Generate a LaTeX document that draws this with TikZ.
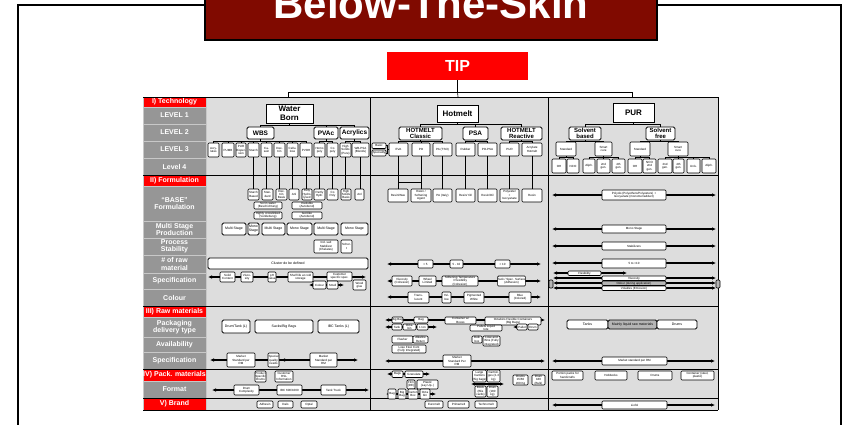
\documentclass[tikz,border=0pt]{standalone}
\usepackage{fontspec}
\setmainfont{Liberation Sans}
\usetikzlibrary{arrows.meta}
\definecolor{tred}{RGB}{128,10,0}
\definecolor{hred}{RGB}{255,0,0}
\definecolor{cbg}{RGB}{221,221,221}
\definecolor{lbg}{RGB}{150,150,150}
\definecolor{lsep}{RGB}{200,200,200}
\newcommand\mybx[7][sb]{\node[#1,minimum width={(#5)-(#3)},minimum height={(#6)-(#4)}] (#2) at ({((#3)+(#5))/2},{((#4)+(#6))/2}) {#7};}
\newcommand\mydl[5][dar]{\coordinate (#2l) at (#3,#5); \coordinate (#2r) at (#4,#5); \draw[#1] (#2l) -- (#2r);}
\tikzset{
 sb/.style={draw,fill=white,rounded corners=1pt,line width=0.55pt,inner sep=0pt,outer sep=0pt,align=center,font=\fontsize{3}{3.3}\selectfont},
 sbg/.style={sb,fill=lbg!70},
 pkb/.style={sb,line width=0.8pt,rounded corners=1.5pt,font=\fontsize{3.5}{4}\selectfont},
 bigb/.style={draw,fill=white,line width=0.9pt,inner sep=0pt,outer sep=0pt,align=center,font=\bfseries\fontsize{8}{8.6}\selectfont},
 midb/.style={draw,fill=white,rounded corners=1.5pt,line width=0.8pt,inner sep=0pt,outer sep=0pt,align=center,font=\bfseries\fontsize{6.5}{6.5}\selectfont},
 midc/.style={midb,font=\bfseries\fontsize{6}{5.6}\selectfont},
 lblc/.style={draw=lsep,line width=0.5pt,fill=lbg,text=white,inner sep=0pt,outer sep=0pt,align=center,font=\bfseries\fontsize{7}{7.6}\selectfont},
 lblr/.style={lblc,fill=hred},
 tipst/.style={fill=hred,text=white,inner sep=0pt,outer sep=0pt,font=\bfseries\fontsize{16}{16}\selectfont},
 titst/.style={draw=black,line width=1.3pt,fill=tred,inner sep=0pt,outer sep=0pt},
 ttxt/.style={text=white,inner sep=0pt,font=\bfseries\fontsize{42}{42}\selectfont},
 con/.style={line width=0.6pt},
 sec/.style={line width=0.9pt},
 dar/.style={line width=1.2pt,{Latex[length=4pt,width=3.6pt]}-{Latex[length=4pt,width=3.6pt]}},
 lar/.style={line width=1.2pt,{Latex[length=4pt,width=3.6pt]}-},
 rar/.style={line width=1.2pt,-{Latex[length=4pt,width=3.6pt]}},
}
\begin{document}
\begin{tikzpicture}[x=1pt,y=-1pt]
\useasboundingbox (0,0) rectangle (846,424);
% frame and title
\draw[line width=1.3pt] (18,5) rectangle (841,440);
\mybx[titst]{ttl}{205}{-10}{657}{40}{}
\node[ttxt,anchor=base] (ttext) at (431,18) {Below-The-Skin};
\mybx[tipst]{tip}{387}{52}{528}{80}{TIP}
% grid background
\fill[cbg] (206,97) rectangle (718,410);
% label column
\mybx[lblr]{r0}{143}{97}{206}{107}{I) Technology}
\mybx[lblc]{r1}{143}{107}{206}{124}{LEVEL 1}
\mybx[lblc]{r2}{143}{124}{206}{141}{LEVEL 2}
\mybx[lblc]{r3}{143}{141}{206}{158}{LEVEL 3}
\mybx[lblc]{r4}{143}{158}{206}{175}{Level 4}
\mybx[lblr]{r5}{143}{175}{206}{186}{II) Formulation}
\mybx[lblc]{r6}{143}{186}{206}{221}{``BASE''\\Formulation}
\mybx[lblc]{r7}{143}{221}{206}{238}{Multi Stage\\Production}
\mybx[lblc]{r8}{143}{238}{206}{255}{Process\\Stability}
\mybx[lblc]{r9}{143}{255}{206}{273}{\# of raw\\material}
\mybx[lblc]{r10}{143}{273}{206}{289}{Specification}
\mybx[lblc]{r11}{143}{289}{206}{306}{Colour}
\mybx[lblr]{r12}{143}{306}{206}{317}{III) Raw materials}
\mybx[lblc]{r13}{143}{317}{206}{337}{Packaging\\delivery type}
\mybx[lblc]{r14}{143}{337}{206}{352}{Availability}
\mybx[lblc]{r15}{143}{352}{206}{369}{Specification}
\mybx[lblr]{r16}{143}{369}{206}{381}{IV) Pack. materials}
\mybx[lblc]{r17}{143}{381}{206}{398}{Format}
\mybx[lblr]{r18}{143}{398}{206}{410}{V) Brand}
% section lines
\draw[sec] (143,97) -- (718,97);
\draw[sec] (143,175) -- (718,175);
\draw[sec] (143,306) -- (718,306);
\draw[sec] (143,369) -- (718,369);
\draw[con] (143,398) -- (718,398);
\draw[sec] (143,410) -- (718,410);
\draw[sec] (370,97) -- (370,410);
\draw[sec] (548,97) -- (548,410);
\draw[sec] (718,97) -- (718,410);
% TIP connector
\coordinate (gwb) at (288,97);
\coordinate (ghm) at (458,97);
\coordinate (gpu) at (632,97);
\draw[con] (tip.south) -- ++(0,12) coordinate (tj);
\draw[con] (gwb) -- (gwb |- tj) -- (gpu |- tj) -- (gpu);
\draw[con] (tj) -- (ghm);

%================ WATER BORN
\mybx[bigb]{wb}{266}{104}{313}{123}{Water\\Born}
\mybx[midb]{wbs}{247}{127}{274}{139}{WBS}
\mybx[midb]{pvac}{314}{127}{338}{139}{PVAc}
\mybx[midb]{acr}{340}{127}{369}{139}{Acrylics}
\mybx{l3a}{208}{143}{219}{157}{Acry-\\lates}
\mybx{l3b}{222}{143}{234}{157}{PUMB}
\mybx{l3c}{236}{143}{246}{157}{PUR\\Disper-\\sion}
\mybx{l3d}{248}{143}{259}{157}{Starch}
\mybx{l3e}{261}{143}{272}{157}{Ca-\\sein}
\mybx{l3f}{274}{143}{285}{157}{Dex-\\trin}
\mybx{l3g}{287}{143}{298}{157}{Cellu-\\lose}
\mybx{l3h}{300}{143}{312}{157}{PVOH}
\mybx{l3i}{314}{143}{325}{157}{Homo\\poly}
\mybx{l3j}{327}{143}{338}{157}{Co\\poly}
\mybx{l3k}{340}{143}{351}{157}{High\\Solids\\(Pure)}
\mybx{l3l}{352}{143}{369}{157}{WB-PSA\\(Blends)}
\draw[con] (wb.south) -- ++(0,2);
\draw[con] (wbs.north) -- ++(0,-2) -| (acr.north);
\draw[con] (pvac.north) -- ++(0,-2);
\draw[con] (wbs.south) -- ++(0,2);
\draw[con] (l3a.north) -- ++(0,-2) -| (l3h.north);
\foreach \n in {l3b,l3c,l3d,l3e,l3f,l3g} \draw[con] (\n.north) -- ++(0,-2);
\draw[con] (pvac.south) -- ++(0,2);
\draw[con] (l3i.north) -- ++(0,-2) -| (l3j.north);
\draw[con] (acr.south) -- ++(0,2);
\draw[con] (l3k.north) -- ++(0,-2) -| (l3l.north);
% formulation WB
\mybx{f1}{248}{189}{259}{200}{Starch\\Based}
\mybx{f2}{262}{189}{273}{200}{Stan-\\dard}
\mybx{f3}{276}{189}{287}{200}{Dex-\\trin\\Basis}
\mybx{f4}{289}{189}{299}{200}{Anl}
\mybx{f5}{302}{189}{312}{200}{Fully\\Hydro-\\lysed}
\mybx{f6}{314}{189}{325}{200}{Partly\\Hydr.}
\mybx{f7}{327}{189}{338}{200}{Co\\Poly}
\mybx{f8}{341}{189}{351}{200}{High\\Solids\\Basis}
\mybx{f9}{355}{189}{364}{200}{Anl}
\foreach \a/\b in {l3d/f1,l3e/f2,l3f/f3,l3g/f4,l3h/f5,l3i/f6,l3j/f7,l3k/f8,l3l/f9}
  \draw[con] (\a.south) -- (\a.south |- \b.north);
\mybx{g1}{254}{202}{282}{209}{Sol in water\\(Beschichtung)}
\mybx{g2}{292}{202}{322}{209}{Insoluble\\(Autobond)}
\mybx{g3}{254}{212}{282}{219}{Highly crosslinked\\(Verklebung)}
\mybx{g4}{292}{212}{322}{219}{Gel-like\\(Autobond)}
\mybx[pkb]{m1}{222}{223}{246}{235}{Multi Stage}
\mybx[pkb]{m2}{248}{223}{259}{235}{Mono\\Stage}
\mybx[pkb]{m3}{262}{223}{285}{235}{Multi Stage}
\mybx[pkb]{m4}{287}{223}{312}{235}{Mono Stage}
\mybx[pkb]{m5}{314}{223}{338}{235}{Multi Stage}
\mybx[pkb]{m6}{341}{223}{368}{235}{Mono Stage}
\mybx{p1}{314}{240}{338}{253}{Ind. salt\\Stabilizer\\(Chelates)}
\mybx{p2}{341}{240}{352}{253}{Scher-\\t}
\mybx[pkb]{rw1}{208}{258}{368}{269}{Cluster do be defined}
\mydl{wsp}{208}{366}{277}
\mybx{s1}{220}{272}{235}{282}{Solid\\Content}
\mybx{s2}{241}{272}{253}{282}{Visco-\\sity}
\mybx{s3}{268}{272}{276}{282}{pH\\value}
\mybx{s4}{288}{272}{313}{282}{Shelf life at cold\\storage}
\mybx{s5}{327}{272}{352}{281}{Customer\\specific spec.}
\mydl{wcl}{309}{344}{285}
\mybx{c1}{313}{281}{326}{289}{Colour}
\mybx{c2}{327}{281}{338}{289}{Smell}
\mybx{w1}{353}{280}{366}{290}{Wood\\glue}
% raw materials WB
\mybx[pkb]{k1}{222}{320}{250}{333}{Drum/Tank (L)}
\mybx[pkb]{k2}{255}{320}{313}{333}{Sacks/Big Bags}
\mybx[pkb]{k3}{318}{320}{359}{333}{IBC Tanks (L)}
\mydl{wsr}{210}{358}{360}
\coordinate (wsa) at (292,360); \coordinate (wsb) at (281,360);
\draw[rar] (wsa) -- (wsb);
\mybx{x1}{227}{353}{255}{367}{Market\\Standard per\\RM}
\mybx{x2}{268}{353}{279}{367}{Special\\quality\\needs}
\mybx{x3}{310}{353}{337}{367}{Market\\Standard per\\RM}
\mybx{pk1}{255}{371}{266}{382}{Product\\Specific\\Drums}
\mybx{pk2}{275}{371}{293}{382}{Customer\\RSL\\Information}
\mydl{wfm}{212}{369}{390}
\mybx{fm1}{234}{385}{259}{395}{Drum\\Complexity}
\mybx{fm2}{277}{385}{302}{395}{IBC 600/1000}
\mybx{fm3}{321}{385}{346}{395}{Tank Truck}
\mybx{b1}{257}{401}{273}{408}{Adhesin}
\mybx{b2}{278}{401}{293}{408}{Dalo}
\mybx{b3}{301}{401}{317}{408}{Optal}

%================ HOTMELT
\mybx[bigb]{hm}{437}{105}{478}{122}{Hotmelt}
\mybx[midc]{hc}{399}{127}{442}{140}{HOTMELT\\Classic}
\mybx[midb]{psa}{463}{127}{488}{140}{PSA}
\mybx[midc]{hr}{501}{127}{542}{140}{HOTMELT\\Reactive}
\mybx{eva}{389}{143}{408}{156}{EVA}
\mybx{po}{412}{143}{430}{156}{PO}
\mybx{pa}{433}{143}{452}{156}{PA (TSO)}
\mybx{rub}{456}{143}{475}{156}{Rubber}
\mybx{popsa}{478}{143}{497}{156}{PO-PSA}
\mybx{purh}{500}{143}{519}{156}{PUR}
\mybx{acrh}{522}{143}{542}{156}{Acrylate\\Hotmelt}
\mybx{bas}{372}{143}{386}{148.5}{Basic}
\mybx{spc}{372}{150}{386}{156}{Speciality}
\draw[con] (hm.south) -- ++(0,2.5);
\draw[con] (hc.north) -- ++(0,-2.5) -| (hr.north);
\draw[con] (psa.north) -- ++(0,-2.5);
\draw[con] (hc.south) -- ++(0,1.5);
\draw[con] (eva.north) -- ++(0,-1.5) -| (pa.north);
\draw[con] (po.north) -- ++(0,-1.5);
\draw[con] (psa.south) -- ++(0,1.5);
\draw[con] (rub.north) -- ++(0,-1.5) -| (popsa.north);
\draw[con] (hr.south) -- ++(0,1.5);
\draw[con] (purh.north) -- ++(0,-1.5) -| (acrh.north);
\draw[con] (bas.east) -- ++(1.5,0) |- (eva.west);
\draw[con] (spc.east) -- ++(1.5,0) |- (eva.west);
\mybx{fh1}{388}{189}{408}{202}{Resin/Wax}
\mybx{fh2}{411}{189}{431}{202}{Resin /\\Softening\\Agent}
\mybx{fh3}{433}{189}{452}{202}{PA (Italy)}
\mybx{fh4}{456}{189}{475}{202}{Resin/ Oil}
\mybx{fh5}{478}{189}{497}{202}{Resin/Oil}
\mybx{fh6}{500}{189}{519}{202}{Polyester\\+\\Isocyanate}
\mybx{fh7}{522}{189}{542}{202}{Resin}
\foreach \a/\b in {eva/fh1,po/fh2,pa/fh3,rub/fh4,popsa/fh5,purh/fh6,acrh/fh7}
  \draw[con] (\a.south) -- (\a.south |- \b.north);
\coordinate (hlk) at (0,182);
\draw[con] (eva.south |- hlk) -- (po.south |- hlk);
\mydl{hnr}{387}{541}{264}
\mybx{n1}{418}{260}{433}{268}{< 5}
\mybx{n2}{450}{260}{463}{268}{5 - 10}
\mybx{n3}{495}{260}{510}{268}{> 10}
\mydl{hsp}{387}{541}{281}
\mybx{hs1}{392}{276}{412}{286}{Viscosity\\(Cohesion)}
\mybx{hs2}{419}{276}{436}{286}{Wheel\\Limited}
\mybx{hs3}{442}{276}{478}{286}{Softening Temperature\\/ Flexibility\\(Cohesion)}
\mybx{hs4}{498}{276}{525}{286}{Tack / Spec. Surface\\(Adhesion)}
\mydl{hcl}{387}{541}{297}
\mybx{hc1}{408}{292}{429}{303}{Trans-\\lucent}
\mybx{hc2}{442}{292}{451}{303}{Yel-\\low}
\mybx{hc3}{464}{292}{484}{303}{Pigmented\\White}
\mybx{hc4}{509}{292}{531}{303}{Blue\\(Colored)}
% raw materials HM
\mydl{hpa}{385}{545}{320}
\mybx{ha1}{392}{317}{403}{323}{Big Bag}
\mybx{ha2}{414}{317}{428}{323}{Bag}
\mybx{ha3}{445}{317}{476}{324}{Container w/\\Boxes}
\mybx{ha4}{485}{317}{541}{325}{Octabins Flexible Containers\\(Big Bags)}
\mydl{hpb}{385}{437}{327}
\mybx{hb1}{392}{324}{402}{330}{Tank}
\mybx{hb2}{403}{324}{416}{330}{Octa-\\bin}
\mybx{hb3}{417}{324}{428}{330}{1 ton}
\mybx{hb4}{470}{325}{502}{331}{Pallets Liquid\\tote}
\coordinate (hpcl) at (513,327); \coordinate (hpcr) at (520,327);
\draw[lar] (hpcl) -- (hpcr);
\mybx{hb5}{517}{324}{527}{330}{Pallet}
\mybx{hb6}{528}{324}{538}{330}{Drum}
\mybx{hx1}{392}{336}{413}{343}{Flasher}
\mybx{hx2}{413}{336}{428}{343}{Alkaline\\Return}
\mybx{hx3}{392}{345}{426}{353}{Lose Flexi Cont\\(Fully Integrated)}
\mybx{hx4}{472}{336}{482}{343}{Bulk\\box}
\mybx{hx5}{483}{336}{500}{346}{Lose and\\Bins (Fully\\integrated)}
\mydl{hsr}{385}{545}{361}
\mybx{hm1}{443}{355}{471}{367}{Market\\Standard Per\\RM}
% pack materials HM
\mydl{hqa}{387}{430}{374}
\mybx{hp1}{392}{371}{403}{377.5}{Bags}
\mybx{hp2}{405}{371}{423}{377.5}{Granulate}
\mybx{hp3}{407}{380}{415}{389}{Film\\(DE)}
\mybx{hp4}{417}{380}{438}{389}{Plastic\\(Lay Up..)}
\mydl{hqb}{386}{436}{394}
\mybx{hp5}{388}{389}{396}{399}{Bag}
\mybx{hp6}{398}{389}{406}{399}{Big\\Bag}
\mybx{hp7}{408}{389}{418}{399}{Carton\\Box}
\mybx{hp8}{420}{389}{430}{399}{Octa\\bin}
\mydl{hqc}{471}{504}{384}
\mybx{hp9}{473}{370}{486}{382}{Large\\Cartons\\(Big bags)}
\mybx{hp10}{487}{370}{500}{382}{Cartrid-\\ges (2-3\\kg)}
\mybx{hp11}{475}{386}{486}{397}{Block\\(Blis\\cards)}
\mybx{hp12}{487}{386}{498}{397}{Drum\\(180\\kg)}
\mybx{hp13}{513}{375}{528}{385}{Drums\\15/60\\200 Kg}
\mybx{hp14}{532}{375}{545}{385}{Drum\\180\\(Bulk)}
\mybx{hbe}{425}{401}{443}{408}{Euromelt}
\mybx{hbp}{448}{401}{469}{408}{Primamelt}
\mybx{hbt}{475}{401}{497}{408}{Technomelt}

%================ PUR
\mybx[bigb]{pur}{613}{103}{654}{122}{PUR}
\mybx[midc]{sbd}{569}{127}{601}{140}{Solvent\\based}
\mybx[midc]{sfr}{646}{127}{675}{140}{Solvent\\free}
\mybx{st1}{556}{142}{576}{156}{Standard}
\mybx{sc1}{595}{142}{612}{156}{Smart\\cure}
\mybx{st2}{630}{142}{650}{156}{Standard}
\mybx{sc2}{668}{142}{688}{156}{Smart\\cure}
\mybx{q1}{552}{159}{566}{173}{OH}
\mybx{q2}{567}{159}{579}{173}{NCO}
\mybx{q3}{583}{159}{595}{173}{Aliph.}
\mybx{q4}{597}{159}{610}{173}{2nd\\gen.}
\mybx{q5}{612}{159}{625}{173}{4th\\gen.}
\mybx{q6}{628}{159}{642}{173}{OH}
\mybx{q7}{643}{159}{656}{173}{NCO\\2nd\\gen.}
\mybx{q8}{658}{159}{672}{173}{2nd\\gen.}
\mybx{q9}{673}{159}{684}{173}{4th\\gen.}
\mybx{q10}{687}{159}{700}{173}{Univ.}
\mybx{q11}{702}{159}{716}{173}{Aliph.}
\draw[con] (pur.south) -- ++(0,2.5);
\draw[con] (sbd.north) -- ++(0,-2.5) -| (sfr.north);
\draw[con] (sbd.south) -- ++(0,1);
\draw[con] (st1.north) -- ++(0,-1) -| (sc1.north);
\draw[con] (sfr.south) -- ++(0,1);
\draw[con] (st2.north) -- ++(0,-1) -| (sc2.north);
\draw[con] (st1.south) -- ++(0,1.5);
\draw[con] (q1.north) -- ++(0,-1.5) -| (q2.north);
\draw[con] (sc1.south) -- ++(0,1.5);
\draw[con] (q3.north) -- ++(0,-1.5) -| (q5.north);
\draw[con] (q4.north) -- ++(0,-1.5);
\draw[con] (st2.south) -- ++(0,1.5);
\draw[con] (q6.north) -- ++(0,-1.5) -| (q7.north);
\draw[con] (sc2.south) -- ++(0,1.5);
\draw[con] (q8.north) -- ++(0,-1.5) -| (q11.north);
\draw[con] (q9.north) -- ++(0,-1.5);
\draw[con] (q10.north) -- ++(0,-1.5);
\mydl{pfa}{552}{716}{195}
\mybx{pf1}{602}{190}{666}{200}{Polyols (Polyethers/Polyesters) +\\Isocyanate (monomer/adduct)}
\mydl{pfb}{552}{716}{229}
\mybx{pf2}{602}{225}{666}{233}{Mono Stage}
\mydl{pfc}{552}{716}{246}
\mybx{pf3}{602}{242}{666}{250}{Stabilizers}
\mydl{pfd}{552}{716}{263}
\mybx{pf4}{602}{259}{666}{268}{5 to <10}
\mydl{pse}{553}{627}{273}
\mybx{ps1}{568}{271}{601}{275.5}{Flexibility}
\mydl{psf}{553}{716}{278}
\mydl{psg}{553}{716}{283}
\mydl{psh}{553}{716}{288}
\mybx{ps2}{602}{276}{666}{280.5}{Viscosity}
\mybx[sbg]{ps3}{602}{281}{666}{285.5}{Odour (during application)}
\mybx{ps4}{602}{286}{666}{290.5}{Volatiles (Emission)}
\mybx[sbg]{ps5}{549}{280}{553}{288}{}
\mybx[sbg]{ps6}{716}{280}{720}{288}{}
\mybx[pkb]{pp1}{567}{320}{608}{329}{Tanks}
\mybx[pkb,fill=lbg!70]{pp2}{608}{320}{657}{329}{Mainly liquid raw materials}
\mybx[pkb]{pp3}{657}{320}{697}{329}{Drums}
\mydl{psr}{552}{715}{361}
\mybx{pr1}{602}{357}{667}{365}{Market standard per RM}
\mybx{pm1}{552}{371}{583}{380}{Portion packs for\\handicrafts}
\mybx{pm2}{595}{371}{627}{380}{Hobbocks}
\mybx{pm3}{638}{371}{672}{380}{Drums}
\mybx{pm4}{681}{371}{714}{380}{Container (steel,\\plastic)}
\mydl{pbr}{552}{715}{405}
\mybx{pb1}{602}{401}{667}{409}{Liofol}
\end{tikzpicture}
\end{document}
